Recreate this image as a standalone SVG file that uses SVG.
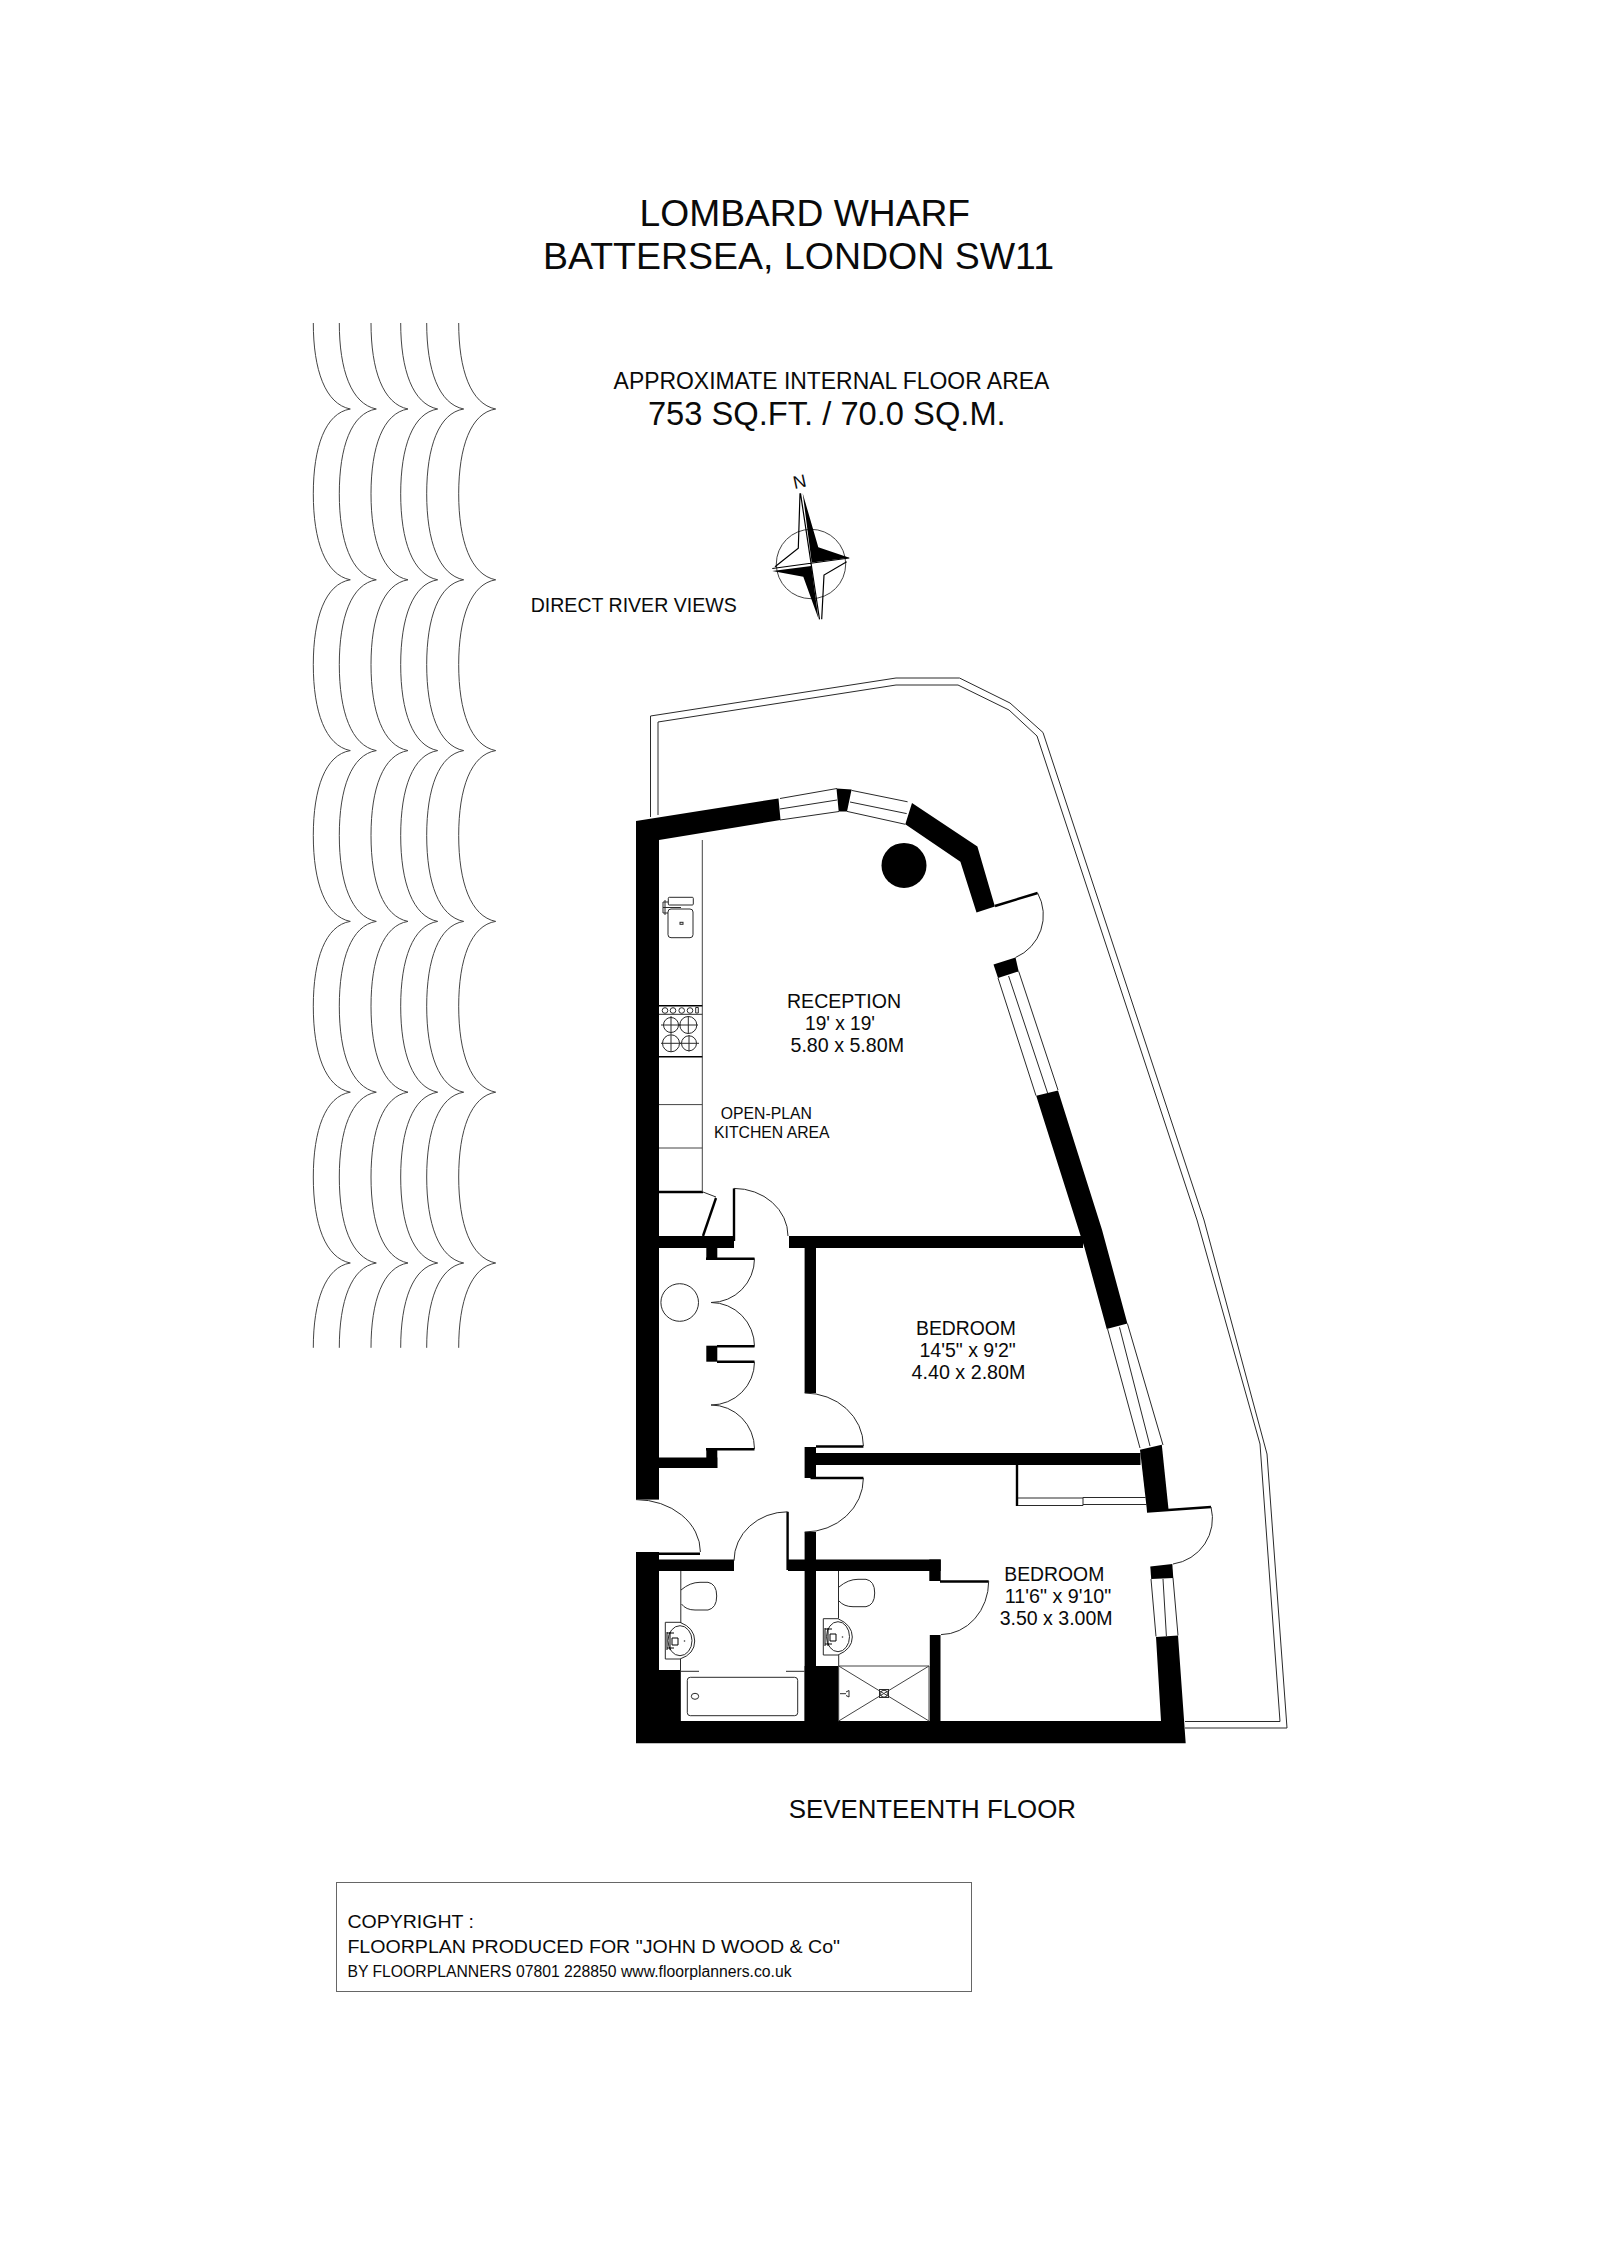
<svg xmlns="http://www.w3.org/2000/svg" width="1600" height="2263" viewBox="0 0 1600 2263">
<style>
text{font-family:"Liberation Sans",Arial,sans-serif;fill:#0a0a0a}
.w{fill:#000;stroke:none}
.l{fill:none;stroke:#2a2a2a;stroke-width:1}
.g{fill:none;stroke:#444;stroke-width:1}
.k{fill:none;stroke:#000;stroke-width:2.4}
.wave{fill:none;stroke:#444;stroke-width:1}
</style>
<defs>
<path id="wave" d="M0 323c0 47 12 81 37 86c-25 4-37 38-37 84.800c0 47 12 81 37 86c-25 4-37 38-37 84.800c0 47 12 81 37 86c-25 4-37 38-37 84.800c0 47 12 81 37 86c-25 4-37 38-37 84.800c0 47 12 81 37 86c-25 4-37 38-37 84.800c0 47 12 81 37 86c-25 4-37 38-37 84.800"/>
</defs>
<rect width="1600" height="2263" fill="#fff"/>

<g id="river" class="wave">
<use href="#wave" x="313.300"/><use href="#wave" x="339.300"/><use href="#wave" x="371"/><use href="#wave" x="400.700"/><use href="#wave" x="426.700"/><use href="#wave" x="458.700"/>
</g>

<g id="titles">
<text x="639.600" y="225.700" font-size="37" textLength="330.400" lengthAdjust="spacingAndGlyphs">LOMBARD WHARF</text>
<text x="543" y="269" font-size="37" textLength="511" lengthAdjust="spacingAndGlyphs">BATTERSEA, LONDON SW11</text>
<text x="613.600" y="389.300" font-size="23" textLength="435.700" lengthAdjust="spacingAndGlyphs">APPROXIMATE INTERNAL FLOOR AREA</text>
<text x="647.900" y="425.300" font-size="33" textLength="357.800" lengthAdjust="spacingAndGlyphs">753 SQ.FT. / 70.0 SQ.M.</text>
<text x="530.700" y="611.700" font-size="20.500" textLength="206" lengthAdjust="spacingAndGlyphs">DIRECT RIVER VIEWS</text>
<text x="788.700" y="1818.300" font-size="26" textLength="287.300" lengthAdjust="spacingAndGlyphs">SEVENTEENTH FLOOR</text>
</g>

<g id="compass">
<text x="793" y="488" font-size="18" transform="rotate(-12 799 482)">N</text>
<circle cx="811" cy="564" r="34.700" class="g"/>
<polygon class="w" points="802.700,493.300 818.300,547.300 849.300,557.700 811.700,562.500"/>
<polygon class="w" points="772.300,571 803.300,576.700 818.300,618.300 811.300,566"/>
<path class="k" style="stroke-width:1.200" d="M800 493.300L798.300 548.300L775 566.700M821.700 619.300L824 575L846.700 561.700M800.500 493.300L819.500 619.300M772.300 568.500L849.300 558"/>
</g>

<g id="balcony" class="l">
<path d="M650.500 817V716L896 678H959.500L1010 703L1043 732.500L1204 1220L1267 1454L1287 1728H1185"/>
<path d="M658 815V722L896 685H958L1009 710L1037 736L1197 1220L1260 1444L1280 1721.500H1185"/>
</g>

<g id="walls">
<rect class="w" x="636" y="821" width="23" height="678.600"/>
<polygon class="w" points="636,821 778.500,798.500 780.500,820 659,840"/>
<polygon class="w" points="836.500,788.500 851.600,789.600 847,811.400 838.700,811.400"/>
<polygon class="w" points="912,803 977.400,846.400 994.900,906.400 976.500,912.500 960.400,861.800 905.300,824.300"/>
<polygon class="w" points="993.500,964.600 1015.500,957.500 1018.700,971.400 998,978"/>
<polygon class="w" points="1036.200,1095.700 1058,1090.400 1102,1229.700 1127.400,1323.500 1106.700,1329 1084.600,1248 1080.500,1235.500"/>
<polygon class="w" points="1140,1449.800 1161.800,1444.800 1168.700,1511 1147,1511"/>
<polygon class="w" points="1150.300,1566.500 1172.300,1564 1173.300,1578 1151.200,1579"/>
<polygon class="w" points="1156,1637 1178,1635.400 1185.700,1743.300 636,1743.300 636,1721 1161,1721"/>
<rect class="w" x="636" y="1552" width="23" height="170"/>
<rect class="w" x="659" y="1670" width="21.300" height="52"/>
<rect class="w" x="659" y="1236" width="75" height="12"/>
<rect class="w" x="789" y="1236" width="294" height="12"/>
<rect class="w" x="706.300" y="1248" width="11" height="11.600"/>
<rect class="w" x="706.300" y="1345.700" width="11" height="16"/>
<rect class="w" x="706.300" y="1449" width="11" height="19"/>
<rect class="w" x="659" y="1457.500" width="58.300" height="10.500"/>
<rect class="w" x="804.600" y="1248" width="11.400" height="145"/>
<rect class="w" x="804.600" y="1447" width="11.400" height="31"/>
<rect class="w" x="816" y="1453" width="324.500" height="12"/>
<rect class="w" x="804.600" y="1532" width="11.400" height="190"/>
<rect class="w" x="804.600" y="1666" width="34.100" height="56"/>
<rect class="w" x="659" y="1559.500" width="75" height="11.500"/>
<rect class="w" x="788" y="1559.500" width="152.700" height="11.500"/>
<rect class="w" x="929.300" y="1559.500" width="11.400" height="21.500"/>
<rect class="w" x="929.800" y="1635" width="10.700" height="87"/>
<ellipse class="w" cx="904" cy="865.400" rx="22.500" ry="22.500"/>
</g>

<g id="windows" class="l">
<path d="M780 798.500L837 788.500M780 809L837 800M780 820L839 811.500"/>
<path d="M851.600 790.400L907.600 801.800M850 802L906.700 813.600M847 811.400L905.300 824.300"/>
<path d="M998 978L1036 1095.700M1008.600 976L1047.600 1093M1018.700 971.400L1058 1090"/>
<path d="M1107.600 1329L1140 1448M1119.500 1327.300L1150 1446M1127.400 1323.500L1163 1445"/>
<path d="M1151 1579L1156 1636.500M1163 1579L1166.400 1636M1173 1578L1178 1635.400"/>
</g>

<g id="doors">
<path class="k" d="M995 906L1037.600 893"/>
<path class="l" d="M1037.600 893A46 46 0 0 1 1015.500 957.500"/>
<path class="k" d="M1147 1511.500L1211 1507"/>
<path class="l" d="M1211 1507A46 46 0 0 1 1173 1564"/>
<path class="k" d="M734 1188.400V1241"/>
<path class="l" d="M734 1188.400A54 47.600 0 0 1 788 1236"/>
<path class="k" d="M646.600 1553.800H700"/>
<path class="l" d="M636 1499.600A64.400 52.400 0 0 1 700.400 1552"/>
<path class="k" d="M816 1446.500H863.400M810.500 1478H863.400"/>
<path class="l" d="M804.600 1393A58.800 53 0 0 1 863.400 1446M863.400 1478A58.800 54 0 0 1 804.600 1532"/>
<path class="k" d="M787.600 1511.800V1570"/>
<path class="l" d="M787.600 1511.800A53.600 49 0 0 0 734 1560.800"/>
<path class="k" d="M940 1581.500H988.700"/>
<path class="l" d="M988.700 1581A48 53.600 0 0 1 941 1634.600"/>
<path class="k" d="M706 1258.800H754.500M717 1346.300H754.500M717 1361.800H754.500M706 1449.300H754.500"/>
<path class="l" d="M754.500 1258.500A43.500 44 0 0 1 711 1302.500A43.500 44 0 0 1 754.500 1346.500M754.500 1361.800A43.500 43.200 0 0 1 711 1405A43.500 44 0 0 1 754.500 1449"/>
</g>

<g id="cupboards">
<path class="k" d="M659 1192H703"/>
<path class="l" d="M703 1192L716 1197"/>
<path class="k" d="M716 1198L703 1236"/>
<circle class="l" cx="679.700" cy="1302.500" r="18.800"/>
<path class="k" d="M1017 1465V1506"/>
<path class="l" d="M1018 1498H1083M1018 1505.500H1083M1083 1505.500V1497.500H1145.700M1083 1504.500H1147"/>
</g>

<g id="kitchen">
<path class="g" d="M702.300 840V1192M659 1104.600H702.300M659 1148H702.300"/>
<path class="k" style="stroke-width:1.500" d="M659 1005.700H702.300M659 1056.700H702.300"/>
<rect class="l" x="668.300" y="897.300" width="25" height="7.700" rx="1"/>
<rect class="l" x="668" y="909" width="25" height="28.700" rx="3"/>
<rect class="l" x="680" y="922.300" width="3" height="2"/>
<path class="l" d="M663 902H668M663 913H668M663 902V913M665 900V915M663 907.500H681"/>
<path class="l" d="M659 1014.300H702.300M695.700 1007.500V1013H698.300V1007.500Z"/>
<circle class="l" cx="665" cy="1010.500" r="2.800"/><circle class="l" cx="673" cy="1010.500" r="2.800"/><circle class="l" cx="681.700" cy="1010.500" r="2.800"/><circle class="l" cx="690" cy="1010.500" r="2.800"/>
<path class="l" d="M661 1025H681M671 1016V1034M678.500 1025H698M688.300 1016V1034M661 1043.300H681M671 1034.500V1052M680 1043.300H699M689 1035V1051.500"/>
<circle class="l" cx="671" cy="1025" r="7.500"/><circle class="l" cx="688.300" cy="1025" r="8.500"/><circle class="l" cx="671" cy="1043.300" r="8.500"/><circle class="l" cx="689" cy="1043.300" r="7.500"/>
</g>

<g id="bathroom">
<path class="l" d="M680.800 1571V1623M680.500 1659V1721M680.500 1671.300H699M786 1671.300H804.600"/>
<path class="l" d="M681 1590Q690 1582.300 700 1582.300H708Q716.700 1584 716.700 1596Q716.700 1608 708 1610H695Q686 1610 681.500 1604"/>
<path class="l" d="M665.300 1622.300H680Q694.700 1628 694.700 1641Q694.700 1654 680 1659H665.300Z"/>
<ellipse class="l" cx="680" cy="1640.700" rx="12" ry="15"/>
<path class="k" style="stroke-width:1" d="M667 1632V1650M670 1632V1650M672 1638H678V1645H672ZM667 1633H674M667 1648H674"/>
<circle cx="684.500" cy="1641" r="0.800" fill="#333"/>
<rect class="l" x="687.300" y="1677.300" width="110.400" height="38.400" rx="3"/>
<ellipse class="l" cx="695" cy="1696.300" rx="3.700" ry="3"/>
</g>

<g id="ensuite">
<path class="l" d="M838.500 1571V1618.500M838.700 1655V1666"/>
<path class="l" d="M839 1587Q848 1579.300 858 1579.300H866Q874.700 1581 874.700 1593Q874.700 1605 866 1606.700H853Q844 1606.700 839 1601"/>
<path class="l" d="M823.300 1618.700H838Q852.300 1625 852.300 1637Q852.300 1649 838 1655H823.300Z"/>
<ellipse class="l" cx="838" cy="1636.700" rx="11.500" ry="15"/>
<path class="k" style="stroke-width:1" d="M825 1628V1646M828 1628V1646M830 1634H836V1641H830ZM825 1629H832M825 1644H832"/>
<circle cx="842.500" cy="1637" r="0.800" fill="#333"/>
<path class="g" d="M838.700 1666H929V1721M838.700 1666V1721M838.700 1666L929 1721M929 1666L838.700 1721"/>
<rect class="l" x="879.500" y="1689.500" width="9" height="8" fill="#fff"/>
<circle class="l" cx="884" cy="1693.700" r="3.500"/>
<path class="l" d="M840 1693.700H846M846 1692L849 1690.500V1697L846 1695.500"/>
</g>

<g id="labels">
<text x="787" y="1008" font-size="19.500" textLength="114" lengthAdjust="spacingAndGlyphs">RECEPTION</text>
<text x="805" y="1030" font-size="19.500" textLength="70" lengthAdjust="spacingAndGlyphs">19' x 19'</text>
<text x="790.500" y="1052" font-size="19.500" textLength="113.500" lengthAdjust="spacingAndGlyphs">5.80 x 5.80M</text>
<text x="720.800" y="1119" font-size="16.500" textLength="91" lengthAdjust="spacingAndGlyphs">OPEN-PLAN</text>
<text x="714" y="1137.500" font-size="16.500" textLength="115.600" lengthAdjust="spacingAndGlyphs">KITCHEN AREA</text>
<text x="916" y="1335" font-size="19.500" textLength="100" lengthAdjust="spacingAndGlyphs">BEDROOM</text>
<text x="919.400" y="1357" font-size="19.500" textLength="96.400" lengthAdjust="spacingAndGlyphs">14'5" x 9'2"</text>
<text x="911.600" y="1379" font-size="19.500" textLength="113.800" lengthAdjust="spacingAndGlyphs">4.40 x 2.80M</text>
<text x="1004.300" y="1581" font-size="19.500" textLength="100" lengthAdjust="spacingAndGlyphs">BEDROOM</text>
<text x="1004.800" y="1603" font-size="19.500" textLength="106.500" lengthAdjust="spacingAndGlyphs">11'6" x 9'10"</text>
<text x="999.700" y="1624.700" font-size="19.500" textLength="112.900" lengthAdjust="spacingAndGlyphs">3.50 x 3.00M</text>
</g>

<g id="copyright">
<rect x="336.500" y="1882.500" width="635" height="109" fill="none" stroke="#666" stroke-width="1"/>
<text x="347.400" y="1928.300" font-size="18" textLength="126.600" lengthAdjust="spacingAndGlyphs">COPYRIGHT :</text>
<text x="347.400" y="1953.300" font-size="18" textLength="492.600" lengthAdjust="spacingAndGlyphs">FLOORPLAN PRODUCED FOR "JOHN D WOOD &amp; Co"</text>
<text x="347.400" y="1977.300" font-size="16" textLength="444.200" lengthAdjust="spacingAndGlyphs">BY FLOORPLANNERS 07801 228850 www.floorplanners.co.uk</text>
</g>
</svg>
